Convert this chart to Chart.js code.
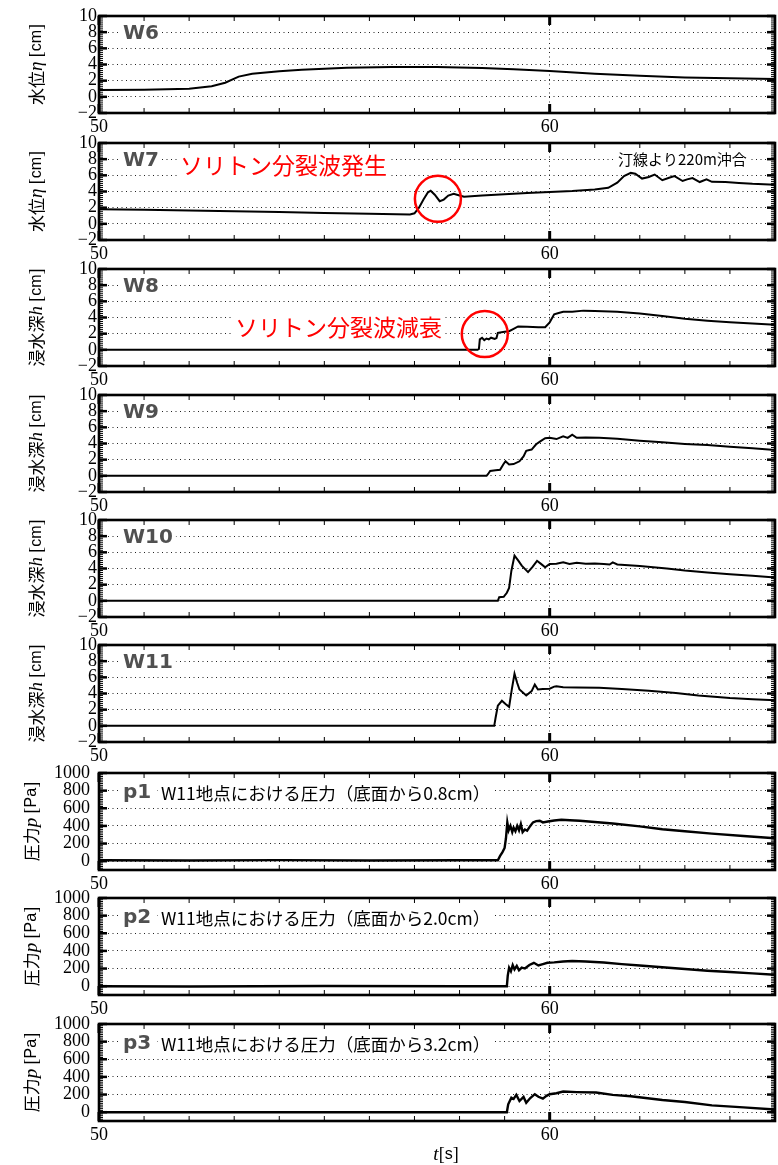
<!DOCTYPE html>
<html lang="ja">
<head>
<meta charset="utf-8">
<title>W6-W11 水位・浸水深 / p1-p3 圧力</title>
<script src="https://cdn.jsdelivr.net/npm/chart.js@4.4.1/dist/chart.umd.min.js"></script>
<style>
  html, body { margin: 0; padding: 0; background: #fff; }
  #wrap { position: relative; width: 778px; height: 1165px; overflow: hidden; }
  #wrap canvas { position: absolute; left: 0; }
</style>
</head>
<body>
<div id="wrap"></div>
<script>
// tick labels
const timeTicks = [50, 60];
const cmTicks = [-2, 0, 2, 4, 6, 8, 10];
const paTicks = [0, 200, 400, 600, 800, 1000];

// [t (s), value]
// water level eta [cm]
const w6 = [[50,0.85],[51,0.87],[52,1.0],[52.5,1.3],[52.8,1.75],[53.1,2.5],[53.4,2.85],[54,3.15],[54.5,3.35],
  [55.5,3.6],[56.5,3.7],[57.5,3.68],[58.5,3.58],[59.2,3.4],[60,3.2],[61,2.85],[62,2.6],[63,2.4],[64,2.3],[65,2.2]];
const w7 = [[50,1.8],[51,1.75],[52,1.65],[53,1.55],[54,1.45],[55,1.35],[56,1.25],[56.9,1.15],[57.0,1.3],[57.1,2.0],
  [57.2,3.0],[57.3,3.9],[57.36,4.1],[57.45,3.6],[57.56,2.8],[57.65,3.0],[57.75,3.5],[57.87,3.73],[58.0,3.5],[58.1,3.35],
  [58.5,3.5],[59,3.65],[59.5,3.8],[60,3.93],[60.5,4.05],[61,4.25],[61.3,4.45],[61.5,5.1],[61.65,5.9],[61.8,6.3],
  [61.9,6.2],[62.05,5.6],[62.2,5.8],[62.33,6.1],[62.5,5.4],[62.65,5.7],[62.77,5.9],[62.95,5.3],[63.05,5.5],[63.17,5.66],
  [63.33,5.17],[63.48,5.5],[63.6,5.2],[63.9,5.17],[64.2,5.05],[64.5,4.95],[65,4.85]];
// inundation depth h [cm]
const w8 = [[50,0],[58.4,0],[58.43,0.1],[58.45,1.3],[58.5,1.5],[58.55,1.2],[58.6,1.4],[58.65,1.3],[58.7,1.5],[58.78,1.35],
  [58.82,1.45],[58.85,2.1],[59.0,2.25],[59.1,2.3],[59.2,2.6],[59.3,2.9],[59.5,2.85],[59.75,2.8],[59.9,2.8],[60.0,3.4],
  [60.1,4.4],[60.2,4.55],[60.3,4.7],[60.5,4.7],[60.75,4.85],[61,4.8],[61.5,4.7],[62,4.5],[62.5,4.2],[63,3.85],
  [63.5,3.6],[64,3.4],[64.5,3.25],[65,3.1]];
const w9 = [[50,0],[58.6,0],[58.63,0.2],[58.68,0.6],[58.8,0.7],[58.9,0.75],[58.97,1.4],[59.02,1.8],[59.1,1.4],[59.2,1.45],
  [59.33,1.8],[59.42,2.4],[59.48,3.1],[59.55,3.2],[59.6,3.25],[59.7,3.9],[59.8,4.3],[59.9,4.65],[60.0,4.7],[60.15,4.55],
  [60.3,4.9],[60.4,4.7],[60.5,5.1],[60.6,4.7],[60.8,4.75],[61.1,4.7],[61.5,4.6],[62.0,4.35],[62.5,4.15],[63,3.95],
  [63.5,3.8],[64,3.6],[64.5,3.4],[65,3.2]];
const w10 = [[50,0],[58.85,0],[58.88,0.45],[58.98,0.5],[59.05,1.0],[59.1,1.6],[59.15,3.7],[59.22,5.6],[59.3,5.0],[59.38,4.35],
  [59.52,3.55],[59.62,4.2],[59.72,4.95],[59.8,4.6],[59.9,4.15],[60,4.55],[60.15,4.6],[60.3,4.76],[60.44,4.56],[60.6,4.7],
  [60.8,4.6],[61.0,4.62],[61.2,4.55],[61.33,4.5],[61.4,4.76],[61.5,4.5],[62,4.3],[62.6,4.0],[63,3.75],[63.5,3.5],
  [64,3.3],[64.5,3.1],[65,2.9]];
const w11 = [[50,0],[58.77,0],[58.8,1.0],[58.85,2.5],[58.94,3.1],[59.02,2.7],[59.1,2.35],[59.16,4.5],[59.22,6.45],[59.28,5.3],
  [59.33,4.5],[59.48,3.75],[59.6,4.3],[59.67,5.1],[59.74,4.5],[59.85,4.55],[60,4.6],[60.1,4.85],[60.15,4.89],[60.3,4.77],
  [60.6,4.75],[61.1,4.7],[61.6,4.55],[62.2,4.35],[62.8,4.05],[63.3,3.75],[64,3.45],[64.5,3.3],[65,3.15]];
// pressure p [Pa]
const p1 = [[50,10],[52,8],[54,12],[56,8],[58,10],[58.85,10],[58.9,60],[58.95,100],[59.0,150],[59.03,260],[59.06,440],
  [59.09,350],[59.13,400],[59.17,330],[59.2,380],[59.24,340],[59.28,400],[59.32,350],[59.36,420],[59.4,330],[59.45,360],
  [59.5,345],[59.57,400],[59.63,440],[59.7,455],[59.78,458],[59.85,440],[59.96,450],[60.1,462],[60.26,470],[60.45,465],
  [60.67,458],[61,445],[61.4,427],[62,395],[62.5,362],[63,340],[63.6,313],[64.3,285],[65,260]];
const p2 = [[50,0],[52,-3],[55,2],[58,0],[59.05,0],[59.07,120],[59.1,210],[59.14,170],[59.18,240],[59.22,190],[59.27,230],
  [59.32,180],[59.38,210],[59.45,200],[59.55,240],[59.65,265],[59.75,235],[59.85,250],[59.95,265],[60.1,270],[60.3,280],
  [60.5,285],[60.8,280],[61.2,268],[61.6,250],[62,235],[62.5,215],[63,195],[63.5,175],[64,160],[64.5,145],[65,130]];
const p3 = [[50,0],[59.05,0],[59.08,90],[59.15,165],[59.2,150],[59.26,196],[59.33,127],[59.42,173],[59.48,107],[59.57,160],
  [59.67,204],[59.75,175],[59.85,154],[59.93,185],[60,204],[60.15,215],[60.3,234],[60.6,228],[61.03,223],[61.4,196],
  [61.8,180],[62.5,138],[63,115],[63.6,77],[64.3,55],[65,31]];

const CJK = '"Noto Sans CJK JP", sans-serif';
const SERIF = '"Liberation Serif", serif';
const SANS = '"Liberation Sans", sans-serif';

const etaTitle = [['水位', '17px ' + CJK], ['η', 'italic 19px ' + SERIF], [' ', '17px ' + SERIF], ['[', '18px ' + SERIF], ['cm', '16px ' + SANS], [']', '18px ' + SERIF]];
const hTitle = [['浸水深', '17px ' + CJK], ['h', 'italic 19px ' + SERIF], [' ', '17px ' + SERIF], ['[', '18px ' + SERIF], ['cm', '16px ' + SANS], [']', '18px ' + SERIF]];
const pTitle = [['圧力', '17px ' + CJK], ['p', 'italic 19px ' + SERIF], [' ', '17px ' + SERIF], ['[', '18px ' + SERIF], ['Pa', '16px ' + SANS], [']', '18px ' + SERIF]];

const panels = [
  { name: 'W6', data: w6, title: etaTitle },
  { name: 'W7', data: w7, title: etaTitle,
    notes: [{ text: 'ソリトン分裂波発生', dx: 81, v: 7.2, font: '23px ' + CJK, color: '#f00' },
            { text: '汀線より220m沖合', dx: 519, v: 8.0, font: '15px ' + CJK, color: '#000' }],
    circles: [{ t: 57.52, v: 3.1 }] },
  { name: 'W8', data: w8, title: hTitle,
    notes: [{ text: 'ソリトン分裂波減衰', dx: 136, v: 2.75, font: '23px ' + CJK, color: '#f00' }],
    circles: [{ t: 58.56, v: 1.95 }] },
  { name: 'W9', data: w9, title: hTitle },
  { name: 'W10', data: w10, title: hTitle },
  { name: 'W11', data: w11, title: hTitle },
  { name: 'p1', data: p1, title: pTitle, pa: true, caption: 'W11地点における圧力（底面から0.8cm）' },
  { name: 'p2', data: p2, title: pTitle, pa: true, caption: 'W11地点における圧力（底面から2.0cm）' },
  { name: 'p3', data: p3, title: pTitle, pa: true, caption: 'W11地点における圧力（底面から3.2cm）', last: true }
];

const panelTops = [16, 143, 269, 395, 520, 645, 773, 898, 1024];
const plotH = 97, padTop = 12, axisH = 26, extraBottom = 36;

function boxedText(ctx, text, x, y, font, color) {
  ctx.font = font;
  ctx.textBaseline = 'middle';
  ctx.textAlign = 'left';
  const w = ctx.measureText(text).width;
  const h = parseFloat(font.match(/([\d.]+)px/)[1]);
  ctx.fillStyle = '#fff';
  ctx.fillRect(x - 3, y - h * 0.55, w + 6, h * 1.1);
  ctx.fillStyle = color;
  ctx.fillText(text, x, y);
}

function drawSegments(ctx, segs, x, y) {
  let total = 0;
  segs.forEach(s => { ctx.font = s[1]; total += ctx.measureText(s[0]).width; });
  let cx = x - total / 2;
  ctx.textBaseline = 'middle';
  ctx.textAlign = 'left';
  ctx.fillStyle = '#000';
  segs.forEach(s => { ctx.font = s[1]; ctx.fillText(s[0], cx, y); cx += ctx.measureText(s[0]).width; });
}

function seg(ctx, x1, y1, x2, y2) {
  ctx.beginPath(); ctx.moveTo(x1, y1); ctx.lineTo(x2, y2); ctx.stroke();
}

function panelPlugin(p) {
  return {
    id: 'panel_' + p.name,
    afterDatasetsDraw(chart) {
      const { ctx, chartArea: a, scales: { x, y } } = chart;
      ctx.save();
      const ly = y.getPixelForValue(p.pa ? 800 : 8) + 2;
      boxedText(ctx, p.name, a.left + 24, ly, 'bold 20px "DejaVu Sans", sans-serif', '#505050');
      if (p.caption) boxedText(ctx, p.caption, a.left + 62, ly + 1, '17.5px ' + CJK, '#000');
      (p.notes || []).forEach(n => boxedText(ctx, n.text, a.left + n.dx, y.getPixelForValue(n.v), n.font, n.color));
      (p.circles || []).forEach(c => {
        ctx.beginPath();
        ctx.arc(x.getPixelForValue(c.t), y.getPixelForValue(c.v), 23, 0, Math.PI * 2);
        ctx.strokeStyle = '#f00';
        ctx.lineWidth = 2.5;
        ctx.stroke();
      });
      ctx.restore();
    },
    afterDraw(chart) {
      const { ctx, chartArea: a, scales: { x, y } } = chart;
      ctx.save();
      ctx.strokeStyle = '#000';
      // x ticks, inward, every second
      for (let t = Math.ceil(x.min); t <= x.max; t++) {
        const px = x.getPixelForValue(t);
        const major = timeTicks.includes(t);
        const len = major ? 9 : 5;
        ctx.lineWidth = major ? 3 : 1;
        seg(ctx, px, a.top, px, a.top + len);
        seg(ctx, px, a.bottom, px, a.bottom - len);
      }
      // y ticks, inward, both sides
      const majors = p.pa ? paTicks : cmTicks;
      const minorStep = p.pa ? 20 : 0.25;
      const n = Math.round((y.max - y.min) / minorStep);
      for (let i = 0; i <= n; i++) {
        const v = y.min + i * minorStep;
        const py = y.getPixelForValue(v);
        const major = majors.some(m => Math.abs(m - v) < 1e-6);
        const len = major ? 8 : 4;
        ctx.lineWidth = major ? 2.5 : 1;
        seg(ctx, a.left, py, a.left + len, py);
        seg(ctx, a.right, py, a.right - len, py);
      }
      // frame
      ctx.lineWidth = 2.6;
      ctx.strokeRect(a.left, a.top, a.right - a.left, a.bottom - a.top);
      // y title, rotated
      ctx.save();
      ctx.translate(p.pa ? 32 : 37, (a.top + a.bottom) / 2);
      ctx.rotate(-Math.PI / 2);
      drawSegments(ctx, p.title, 0, 0);
      ctx.restore();
      if (p.last) {
        drawSegments(ctx, [['t', 'italic 19px ' + SERIF], ['[', '18px ' + SERIF], ['s', '16px ' + SANS], [']', '18px ' + SERIF]],
          (a.left + a.right) / 2 + 9, a.bottom + 34);
      }
      ctx.restore();
    }
  };
}

const wrap = document.getElementById('wrap');

panels.forEach((p, i) => {
  const canvas = document.createElement('canvas');
  const h = padTop + plotH + axisH + (p.last ? extraBottom : 0);
  canvas.width = 778;
  canvas.height = h;
  canvas.style.top = (panelTops[i] - padTop) + 'px';
  canvas.style.width = '778px';
  canvas.style.height = h + 'px';
  wrap.appendChild(canvas);

  const yMin = p.pa ? -100 : -2;
  const yMax = p.pa ? 1000 : 10;
  const yTicks = p.pa ? paTicks : cmTicks;

  new Chart(canvas.getContext('2d'), {
    type: 'line',
    data: {
      datasets: [{
        data: p.data.map(([t, v]) => ({ x: t, y: v })),
        borderColor: '#000',
        borderWidth: p.pa ? 2.4 : 2,
        pointRadius: 0,
        tension: 0,
        fill: false
      }]
    },
    options: {
      responsive: false,
      animation: false,
      events: [],
      layout: { padding: { top: padTop, right: 3, left: 0, bottom: p.last ? extraBottom : 0 } },
      plugins: { legend: { display: false }, tooltip: { enabled: false } },
      scales: {
        x: {
          type: 'linear',
          min: 50,
          max: 65,
          afterBuildTicks: s => { s.ticks = timeTicks.map(v => ({ value: v })); },
          afterFit: s => { s.height = axisH; s.paddingLeft = 0; s.paddingRight = 0; },
          ticks: { font: { family: SERIF, size: 18 }, color: '#000', padding: 3, maxRotation: 0, autoSkip: false },
          grid: {
            drawTicks: false,
            lineWidth: 1,
            color: c => (c.tick && c.tick.value === 60) ? '#222' : 'rgba(0,0,0,0)'
          },
          border: { display: false, dash: [1, 3.5] }
        },
        y: {
          min: yMin,
          max: yMax,
          afterBuildTicks: s => { s.ticks = yTicks.map(v => ({ value: v })); },
          afterFit: s => { s.width = 99; s.paddingTop = 0; s.paddingBottom = 0; },
          ticks: {
            font: { family: SERIF, size: 18 },
            color: '#000',
            padding: p.pa ? 9 : 2,
            autoSkip: false,
            callback: v => String(v).replace('-', '\u2212')
          },
          grid: {
            drawTicks: false,
            lineWidth: 1,
            color: c => (c.tick && c.tick.value > yMin && c.tick.value < yMax) ? '#222' : 'rgba(0,0,0,0)'
          },
          border: { display: false, dash: [1, 3.5] }
        }
      }
    },
    plugins: [panelPlugin(p)]
  });
});
</script>
</body>
</html>
